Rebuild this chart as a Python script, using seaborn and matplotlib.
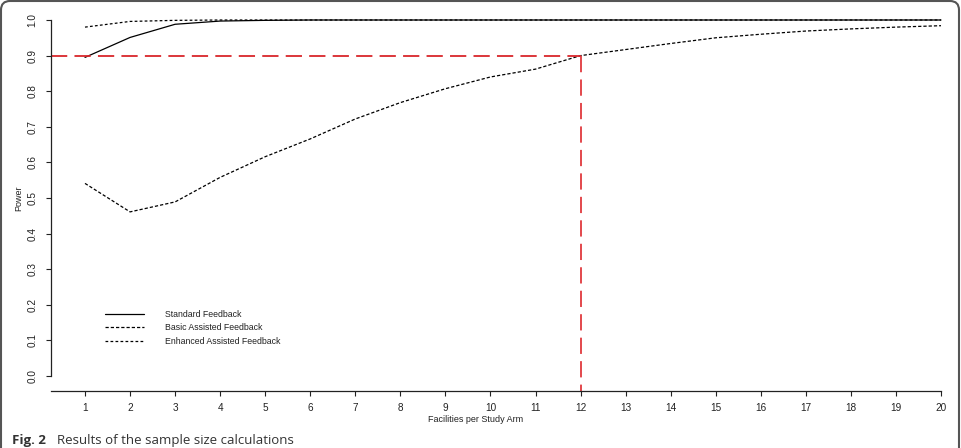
import pandas as pd
import seaborn as sns
import matplotlib.pyplot as plt
from matplotlib.patches import FancyBboxPatch
from matplotlib.transforms import IdentityTransform

facilities = list(range(1, 21))
standard = [0.895, 0.951, 0.988, 0.997, 0.999, 1.0, 1.0, 1.0, 1.0, 1.0,
            1.0, 1.0, 1.0, 1.0, 1.0, 1.0, 1.0, 1.0, 1.0, 1.0]
basic = [0.541, 0.461, 0.489, 0.558, 0.616, 0.666, 0.722, 0.768, 0.807, 0.840,
         0.862, 0.900, 0.917, 0.934, 0.950, 0.960, 0.969, 0.975, 0.980, 0.984]
enhanced = [0.980, 0.996, 0.999, 1.0, 1.0, 1.0, 1.0, 1.0, 1.0, 1.0,
            1.0, 1.0, 1.0, 1.0, 1.0, 1.0, 1.0, 1.0, 1.0, 1.0]
labels = ['Standard Feedback', 'Basic Assisted Feedback', 'Enhanced Assisted Feedback']
target_power = 0.9
target_n = 12

df = pd.DataFrame({'n': facilities, 'standard': standard, 'basic': basic, 'enhanced': enhanced})

sns.set_theme(style='white')
plt.rcParams['font.family'] = ['Liberation Sans', 'DejaVu Sans']

W, H = 961, 448
fig = plt.figure(figsize=(W / 100, H / 100), dpi=100)
ax = fig.add_axes([51 / W, 1 - 391 / H, (945 - 51) / W, (391 - 14) / H])

sns.lineplot(data=df, x='n', y='standard', ax=ax, color='black', lw=0.9, label=labels[0])
sns.lineplot(data=df, x='n', y='basic', ax=ax, color='black', lw=0.9,
             linestyle=(0, (2.6, 1.6)), label=labels[1])
sns.lineplot(data=df, x='n', y='enhanced', ax=ax, color='black', lw=0.9,
             linestyle=(0, (2.2, 1.8)), label=labels[2])

xmin = 1 - 34 / 45.05
ax.set_xlim(xmin, 20 + 4 / 45.05)
ax.set_ylim(-15 / 356, 1 + 6 / 356)

# red guide lines at 90% power / 12 facilities
ax.plot([xmin, target_n], [target_power, target_power], color='#d9262b', lw=1.3,
        linestyle=(0, (9, 4)))
ax.plot([target_n, target_n], [target_power, -15 / 356], color='#e0393e', lw=1.3,
        linestyle=(0, (9, 4)))

ax.set_xticks(facilities)
ax.set_xticklabels([str(v) for v in facilities])
yt = [i / 10 for i in range(11)]
ax.set_yticks(yt)
ax.set_yticklabels(['%.1f' % v for v in yt], rotation=90, va='center')

for s in ['top', 'right']:
    ax.spines[s].set_visible(False)
ax.spines['left'].set_bounds(0, 1)
ax.spines['bottom'].set_bounds(xmin, 20)
for s in ['left', 'bottom']:
    ax.spines[s].set_color('#222222')
    ax.spines[s].set_linewidth(0.9)
ax.tick_params(axis='both', which='major', direction='out', length=3.6, width=0.8,
               color='#222222', labelsize=7.2, labelcolor='#222222', left=True, bottom=True)
ax.tick_params(axis='y', pad=6)
ax.tick_params(axis='x', pad=5)

ax.set_xlabel('Facilities per Study Arm', fontsize=6.5, color='#222222')
ax.set_ylabel('Power', fontsize=6.5, color='#222222')
ax.xaxis.set_label_coords((476 - 51) / 894, (391 - 420) / 377)
ax.xaxis.label.set_va('center')
ax.yaxis.set_label_coords((19 - 51) / 894, 0.512)
ax.yaxis.label.set_va('center')

ax.legend(loc='upper left', bbox_to_anchor=(105 / W, 1 - 310 / H), bbox_transform=fig.transFigure,
          frameon=False, fontsize=6.3, handlelength=4.5, handletextpad=2.4,
          labelspacing=0.5, borderpad=0, borderaxespad=0, labelcolor='#222222')

# caption and frame of the figure panel
fig.text(12 / W, 1 - 444 / H, 'Fig. 2', fontsize=9.5, fontweight='bold', family='Open Sans',
         color='#333333', va='baseline')
fig.text(57 / W, 1 - 444 / H, 'Results of the sample size calculations', fontsize=9.5,
         family='Open Sans', color='#333333', va='baseline')
frame = FancyBboxPatch((1, -60), W - 3, H - 1 + 60, boxstyle='round,pad=0,rounding_size=9',
                       transform=IdentityTransform(), fill=False, edgecolor='#555555', lw=1.5)
fig.patches.append(frame)

fig.savefig('out.png', dpi=100)
